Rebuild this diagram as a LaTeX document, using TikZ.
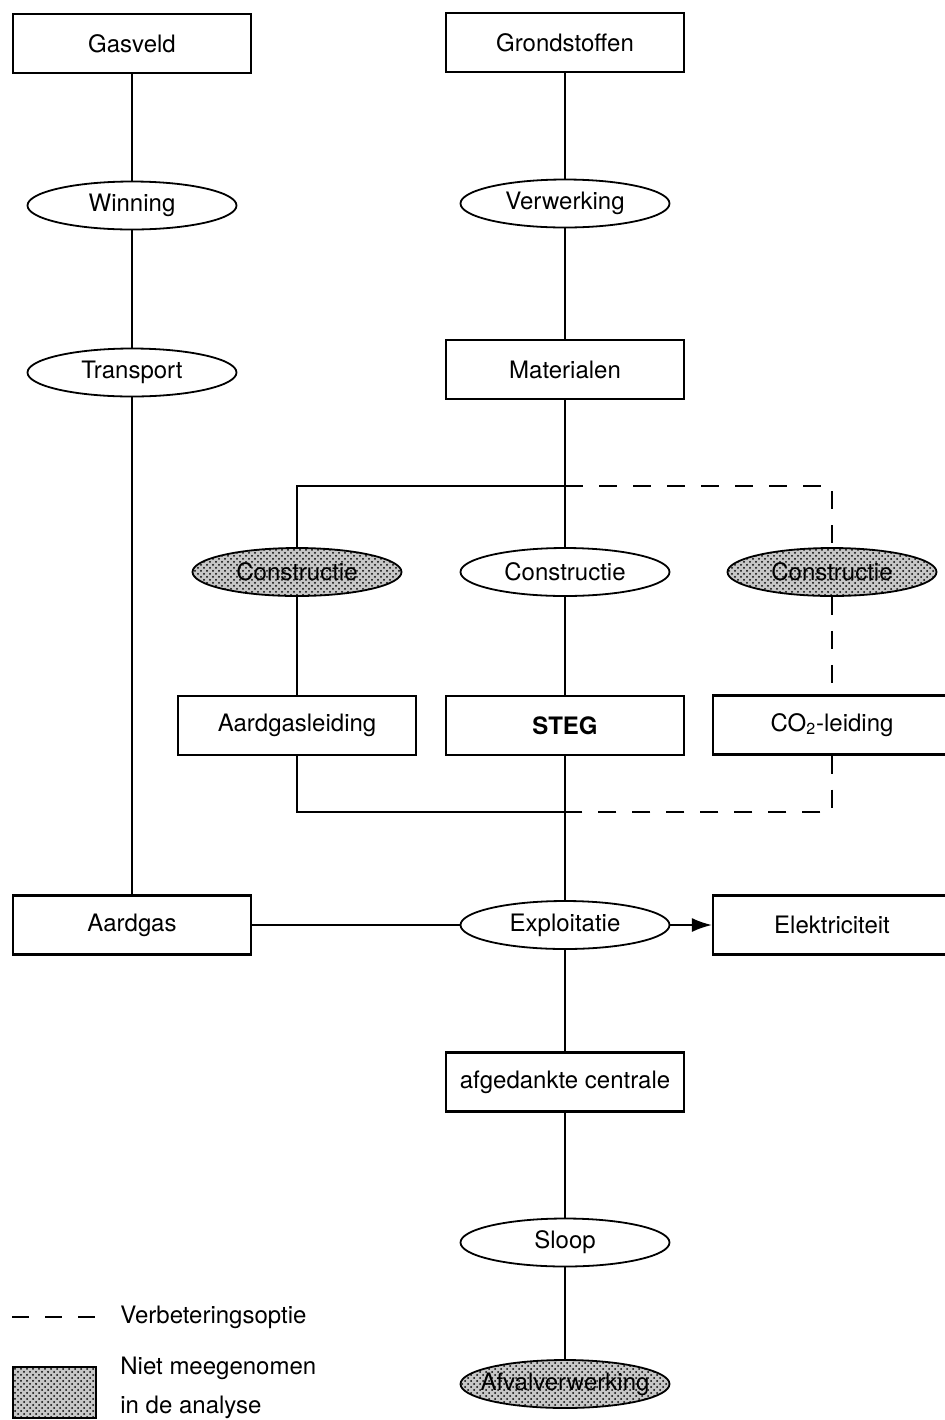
\documentclass[tikz,border=0pt]{standalone}
\usepackage{fontspec}
\setmainfont{TeX Gyre Heros}
\usetikzlibrary{arrows.meta,positioning,shapes,patterns}

\begin{document}
\begin{tikzpicture}[x=0.5pt,y=-0.5pt,
  every node/.style={font=\fontsize{12}{14}\selectfont},
  box/.style={draw,line width=1.1pt,minimum width=119pt,minimum height=29.5pt,inner sep=0pt},
  proc/.style={draw,ellipse,line width=0.9pt,minimum width=104.5pt,minimum height=24pt,inner sep=0pt},
  shade/.style={preaction={fill=black!22},pattern=crosshatch dots,pattern color=black},
  excl/.style={proc,shade},
  link/.style={line width=0.9pt},
  optie/.style={line width=0.9pt,dash pattern=on 9pt off 8pt}]
\useasboundingbox (0,0) rectangle (944,1420);

% gas chain
\node[box] (gasveld) at (132,43.5) {Gasveld};
\node[proc] (winning) at (132,205.5) {Winning};
\node[proc] (transport) at (132,372.5) {Transport};
\node[box] (aardgas) at (132,925) {Aardgas};

% plant chain
\node[box] (grondstof) at (565,42.5) {Grondstoffen};
\node[proc] (verwerking) at (565,203.5) {Verwerking};
\node[box] (materialen) at (565,369.5) {Materialen};
\node[excl] (constrA) at (297,572) {Constructie};
\node[proc] (constrS) at (565,572) {Constructie};
\node[excl] (constrC) at (832,572) {Constructie};
\node[box] (leiding) at (297,725.5) {Aardgasleiding};
\node[box] (steg) at (565,725.5) {\bfseries STEG};
\node[box] (coleiding) at (832,725) {CO\textsubscript{2}-leiding};
\node[proc] (exploit) at (565,925) {Exploitatie};
\node[box] (elek) at (832,925) {Elektriciteit};
\node[box] (afgedankt) at (565,1082) {afgedankte centrale};
\node[proc] (sloop) at (565,1242.5) {Sloop};
\node[excl] (afval) at (565,1384) {\makebox[0pt]{Afvalverwerking}};

\coordinate (topL) at (297,486);
\coordinate (topM) at (565,486);
\coordinate (topR) at (832,486);
\coordinate (botL) at (297,812);
\coordinate (botM) at (565,812);
\coordinate (botR) at (832,812);

\draw[link] (gasveld) -- (winning) -- (transport) -- (aardgas);
\draw[link] (grondstof) -- (verwerking) -- (materialen) -- (constrS) -- (steg) -- (exploit) -- (afgedankt) -- (sloop) -- (afval);
\draw[link] (topM) -- (topL) -- (constrA);
\draw[link] (constrA) -- (leiding);
\draw[link] (leiding) -- (botL) -- (botM);
\draw[optie] (topM) -- (topR) -- (constrC);
\draw[optie] (constrC) -- (coleiding);
\draw[optie] (coleiding) -- (botR) -- (botM);
\draw[link] (aardgas) -- (exploit);
\draw[link,-{Latex[length=10pt,width=7pt]}] (exploit) -- (elek);

% legend
\coordinate (legA) at (12,1317);
\coordinate (legB) at (95,1317);
\draw[optie,dash pattern=on 8.5pt off 8pt] (legA) -- (legB);
\node[anchor=west,inner sep=0pt] (legoptie) at (120,1317) {Verbeteringsoptie};
\node[draw,line width=1.1pt,shade,minimum width=41.5pt,minimum height=25.5pt,inner sep=0pt,anchor=north west] (legbox) at (12,1366) {};
\node[anchor=west,align=left,inner sep=0pt,font=\fontsize{12}{19.5}\selectfont] (legniet) at (120,1388) {Niet meegenomen\\in de analyse};
\end{tikzpicture}
\end{document}
